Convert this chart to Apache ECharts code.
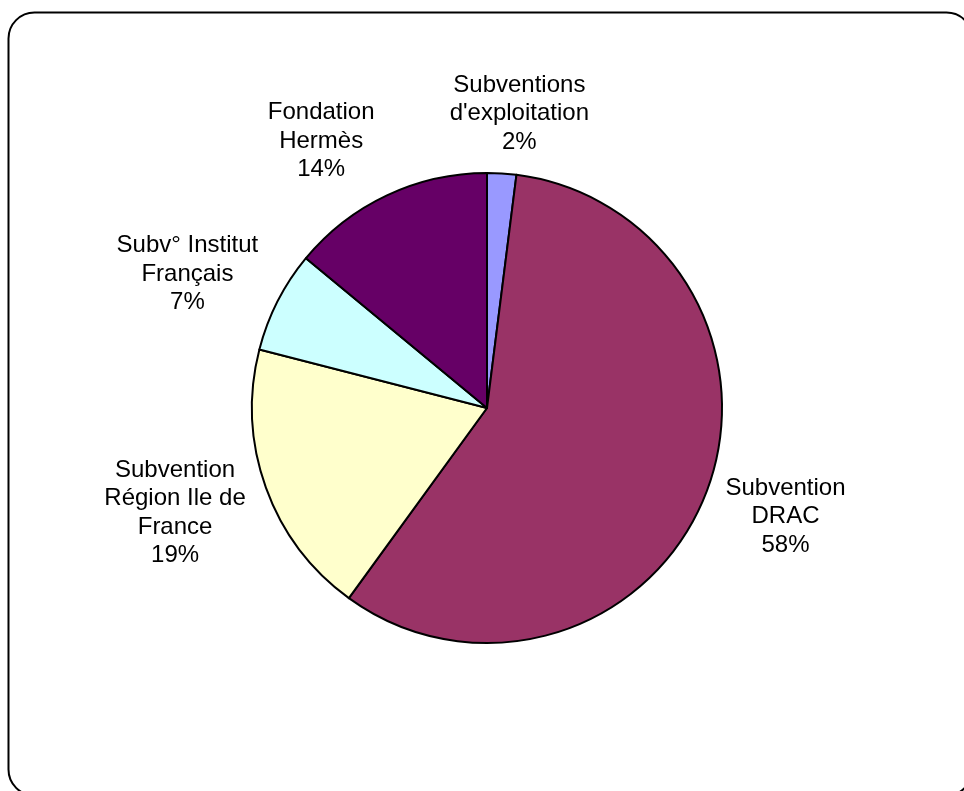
<!DOCTYPE html>
<html>
<head>
<meta charset="utf-8">
<style>
  html, body { margin: 0; padding: 0; background: #ffffff; }
  #chart { width: 964px; height: 791px; }
</style>
<script src="https://cdn.jsdelivr.net/npm/echarts@6/dist/echarts.min.js"></script>
</head>
<body>
<div id="chart"></div>
<script>
// Data (clockwise from 12 o'clock)
var categories = [
  "Subventions\nd'exploitation",
  "Subvention\nDRAC",
  "Subvention\nRégion Ile de\nFrance",
  "Subv° Institut\nFrançais",
  "Fondation\nHermès"
];
var values = [2, 58, 19, 7, 14];
var colors = ['#9999FF', '#993366', '#FFFFCC', '#CCFFFF', '#660066'];

var CX = 487, CY = 408, R = 235, GAP = 15;
var total = values.reduce(function (a, b) { return a + b; }, 0);
var midAngles = [];
(function () {
  var acc = 0;
  for (var i = 0; i < values.length; i++) {
    midAngles.push((acc + values[i] / 2) / total * 2 * Math.PI);
    acc += values[i];
  }
})();

function clamp(v) { return Math.max(-1, Math.min(1, v)); }

var chart = echarts.init(document.getElementById('chart'), null, { renderer: 'canvas' });
chart.setOption({
  backgroundColor: '#ffffff',
  animation: false,
  graphic: [{
    type: 'rect',
    shape: { x: 8.5, y: 12.5, width: 964, height: 783, r: 26 },
    style: { fill: 'none', stroke: '#000000', lineWidth: 2 },
    z: 0
  }],
  series: [{
    type: 'pie',
    center: [CX, CY],
    radius: [0, R],
    startAngle: 90,
    clockwise: true,
    avoidLabelOverlap: false,
    emphasis: { disabled: true },
    itemStyle: { borderColor: '#000000', borderWidth: 2 },
    label: {
      show: true,
      position: 'outside',
      formatter: function (p) { return p.name + '\n' + p.value + '%'; },
      fontFamily: 'Liberation Sans, Arial, sans-serif',
      fontSize: 24,
      lineHeight: 28.5,
      color: '#000000',
      align: 'center'
    },
    labelLine: { show: false, length: 0, length2: 0 },
    labelLayout: function (params) {
      var i = params.dataIndex;
      var a = midAngles[i];
      var dx = Math.sin(a), dy = -Math.cos(a);
      var w = params.labelRect.width, h = params.labelRect.height;
      var fx = clamp(dx * 3.5);
      return {
        x: CX + dx * (R + GAP) + fx * (w / 2 + 6),
        y: CY + dy * (R + GAP) + dy * (h / 2) * 1.05,
        align: 'center',
        verticalAlign: 'middle'
      };
    },
    data: categories.map(function (c, i) {
      return { name: c, value: values[i], itemStyle: { color: colors[i] } };
    })
  }]
});
</script>
</body>
</html>
